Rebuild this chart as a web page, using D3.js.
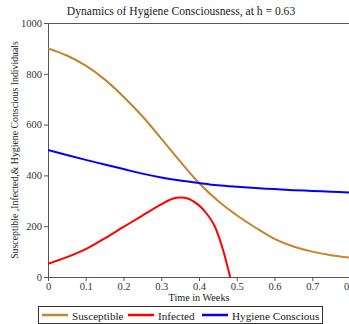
<!DOCTYPE html>
<html>
<head>
<meta charset="utf-8">
<script src="https://cdn.jsdelivr.net/npm/d3@7"></script>
<style>
  html, body { margin: 0; padding: 0; background: #fff; overflow: hidden; }
  svg { display: block; }
</style>
</head>
<body>
<div id="chart"></div>
<script>
// values (weeks, individuals)
const times = [0, 0.05, 0.1, 0.15, 0.2, 0.25, 0.3, 0.35, 0.4, 0.45, 0.5, 0.55, 0.6, 0.65, 0.7, 0.75, 0.8];
const susceptible = [900, 872, 832, 778, 710, 633, 545, 455, 370, 300, 243, 194, 150, 120, 100, 86, 76];
const hygiene = [500, 480, 461, 443, 425, 407, 392, 380, 370, 361, 355, 350, 346, 342, 339, 336, 333];
const infTimes = [0, 0.05, 0.1, 0.15, 0.2, 0.25, 0.3, 0.33, 0.35, 0.37, 0.4, 0.42, 0.44, 0.46, 0.485];
const infected = [52, 78, 110, 152, 197, 242, 286, 308, 313, 309, 282, 250, 205, 125, -15];
const xTicks = [0, 0.1, 0.2, 0.3, 0.4, 0.5, 0.6, 0.7, 0.8];
const yTicks = [0, 200, 400, 600, 800, 1000];

const series = [
  { name: "Susceptible", color: "#c8822e", t: times, v: susceptible },
  { name: "Infected", color: "#ff0000", t: infTimes, v: infected },
  { name: "Hygiene Conscious", color: "#0000ff", t: times, v: hygiene }
];

const FONT = "'Liberation Serif', 'Times New Roman', serif";
const width = 349, height = 324;
const margin = { top: 23, right: -1, bottom: 47, left: 48 };
const plotW = width - margin.left - margin.right;
const plotH = height - margin.top - margin.bottom;

const svg = d3.select("#chart").append("svg")
  .attr("width", width)
  .attr("height", height)
  .attr("font-family", FONT);

const x = d3.scaleLinear().domain([0, 0.8]).range([0, plotW]);
const y = d3.scaleLinear().domain([0, 1000]).range([plotH, 0]);

// title
svg.append("text")
  .attr("x", 181).attr("y", 15)
  .attr("text-anchor", "middle")
  .attr("font-size", 11.6)
  .attr("fill", "#222")
  .text("Dynamics of Hygiene Consciousness, at h = 0.63");

const g = svg.append("g").attr("transform", `translate(${margin.left},${margin.top})`);

// clip for curves
g.append("clipPath").attr("id", "clip")
  .append("rect").attr("width", plotW).attr("height", plotH);

// frame (top and right)
g.append("path")
  .attr("d", `M0,0.5H${plotW}V${plotH}`)
  .attr("fill", "none")
  .attr("stroke", "#555")
  .attr("stroke-width", 1);

// x axis
const xAxis = g.append("g").attr("transform", `translate(0,${plotH})`);
xAxis.call(d3.axisBottom(x).tickValues(d3.range(0, 0.801, 0.05)).tickSize(2).tickFormat(""))
  .call(a => a.select(".domain").remove());
xAxis.call(d3.axisBottom(x).tickValues(xTicks).tickSize(4).tickPadding(2)
    .tickFormat(d => d === 0 ? "0" : d3.format(".1f")(d)))
  .call(a => a.attr("font-family", FONT).attr("font-size", 10.5));

// y axis
const yAxis = g.append("g");
yAxis.call(d3.axisLeft(y).tickValues(d3.range(100, 1000, 200)).tickSize(2).tickFormat(""))
  .call(a => a.select(".domain").remove());
yAxis.call(d3.axisLeft(y).tickValues(yTicks).tickSize(4).tickPadding(2).tickFormat(d3.format("d")))
  .call(a => a.attr("font-family", FONT).attr("font-size", 10.5));

svg.selectAll(".domain, .tick line").attr("stroke", "#555");
svg.selectAll(".tick text").attr("fill", "#333");

// curves
const line = d3.line()
  .x(d => x(d[0]))
  .y(d => y(d[1]))
  .curve(d3.curveCatmullRom);

g.append("g").attr("clip-path", "url(#clip)")
  .selectAll("path")
  .data(series)
  .join("path")
  .attr("fill", "none")
  .attr("stroke", d => d.color)
  .attr("stroke-width", 2)
  .attr("d", d => line(d.t.map((t, i) => [t, d.v[i]])));

// axis labels
svg.append("text")
  .attr("x", margin.left + plotW / 2).attr("y", 301)
  .attr("text-anchor", "middle")
  .attr("font-size", 10.2)
  .attr("fill", "#222")
  .text("Time in Weeks");

svg.append("text")
  .attr("transform", `translate(18,${margin.top + plotH / 2}) rotate(-90)`)
  .attr("text-anchor", "middle")
  .attr("font-size", 9.8)
  .attr("fill", "#222")
  .text("Susceptible ,Infected,& Hygiene Conscious Individuals");

// legend
const legend = svg.append("g").attr("transform", "translate(38,306)");
legend.append("rect")
  .attr("x", 0.5).attr("y", 0.5)
  .attr("width", 284).attr("height", 17)
  .attr("fill", "#fff")
  .attr("stroke", "#333");

const legendX = [4, 90, 164];
const item = legend.selectAll("g.item")
  .data(series)
  .join("g")
  .attr("class", "item")
  .attr("transform", (d, i) => `translate(${legendX[i]},9)`);
item.append("line")
  .attr("x1", 0).attr("x2", 26)
  .attr("stroke", d => d.color)
  .attr("stroke-width", 2.5);
item.append("text")
  .attr("x", 30).attr("y", 4.5)
  .attr("font-size", 11.2)
  .attr("fill", "#222")
  .text(d => d.name);
</script>
</body>
</html>
